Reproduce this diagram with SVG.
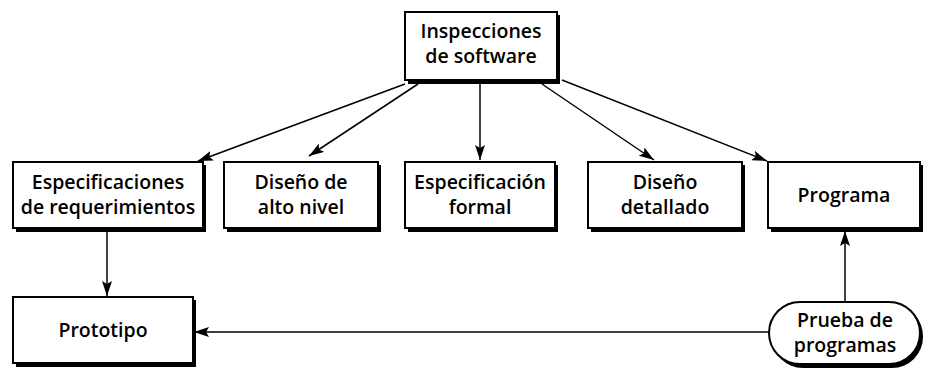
<svg xmlns="http://www.w3.org/2000/svg" width="929" height="371" viewBox="0 0 929 371">
<style>
.box{fill:#fff;stroke:#000;stroke-width:2}
.sh{fill:#000}
.t{font-family:"Open Sans","Noto Sans",sans-serif;font-weight:600;font-size:19.5px;text-anchor:middle;fill:#000}
.c{stroke:#000;stroke-width:1.5;fill:none;marker-end:url(#ah)}
</style>
<defs>
<marker id="ah" viewBox="0 0 15 10" refX="15" refY="5" markerWidth="15" markerHeight="10" markerUnits="userSpaceOnUse" orient="auto">
<path d="M0,0 L15,5 L0,10 L3,5 Z" fill="#000"/>
</marker>
</defs>
<rect width="929" height="371" fill="#fff"/>
<g id="connectors">
<line class="c" x1="405" y1="84" x2="198" y2="161"/>
<line class="c" x1="418" y1="84" x2="309" y2="156"/>
<line class="c" x1="480" y1="84" x2="480" y2="160"/>
<line class="c" x1="542" y1="84" x2="654" y2="160"/>
<line class="c" x1="562" y1="80" x2="767" y2="161"/>
<line class="c" x1="107" y1="231" x2="107" y2="296"/>
<line class="c" x1="769" y1="332" x2="194" y2="332"/>
<line class="c" x1="845" y1="302" x2="845" y2="231"/>
</g>
<g id="n-inspecciones">
<rect class="sh" x="408" y="15" width="152" height="69"/>
<rect class="box" x="405" y="12" width="152" height="68"/>
<text class="t" x="481" y="38">Inspecciones</text>
<text class="t" x="481" y="63">de software</text>
</g>
<g id="n-especificaciones">
<rect class="sh" x="16" y="165" width="190" height="67"/>
<rect class="box" x="13" y="162" width="190" height="66"/>
<text class="t" x="108" y="189">Especificaciones</text>
<text class="t" x="108" y="214">de requerimientos</text>
</g>
<g id="n-diseno-alto">
<rect class="sh" x="227" y="165" width="154" height="67"/>
<rect class="box" x="224" y="162" width="154" height="66"/>
<text class="t" x="301" y="189">Diseño de</text>
<text class="t" x="301" y="214">alto nivel</text>
</g>
<g id="n-especificacion-formal">
<rect class="sh" x="408" y="165" width="150" height="67"/>
<rect class="box" x="405" y="162" width="150" height="66"/>
<text class="t" x="480" y="189">Especificación</text>
<text class="t" x="480" y="214">formal</text>
</g>
<g id="n-diseno-detallado">
<rect class="sh" x="591" y="165" width="154" height="67"/>
<rect class="box" x="588" y="162" width="154" height="66"/>
<text class="t" x="665" y="189">Diseño</text>
<text class="t" x="665" y="214">detallado</text>
</g>
<g id="n-programa">
<rect class="sh" x="771" y="165" width="152" height="67"/>
<rect class="box" x="768" y="162" width="152" height="66"/>
<text class="t" x="844" y="202">Programa</text>
</g>
<g id="n-prototipo">
<rect class="sh" x="16" y="300" width="180" height="67"/>
<rect class="box" x="13" y="297" width="180" height="66"/>
<text class="t" x="103" y="337">Prototipo</text>
</g>
<g id="n-prueba">
<rect class="sh" x="772" y="305" width="151" height="63" rx="31"/>
<rect class="box" x="769" y="302" width="151" height="62" rx="31"/>
<text class="t" x="845" y="327">Prueba de</text>
<text class="t" x="845" y="352">programas</text>
</g>
</svg>
